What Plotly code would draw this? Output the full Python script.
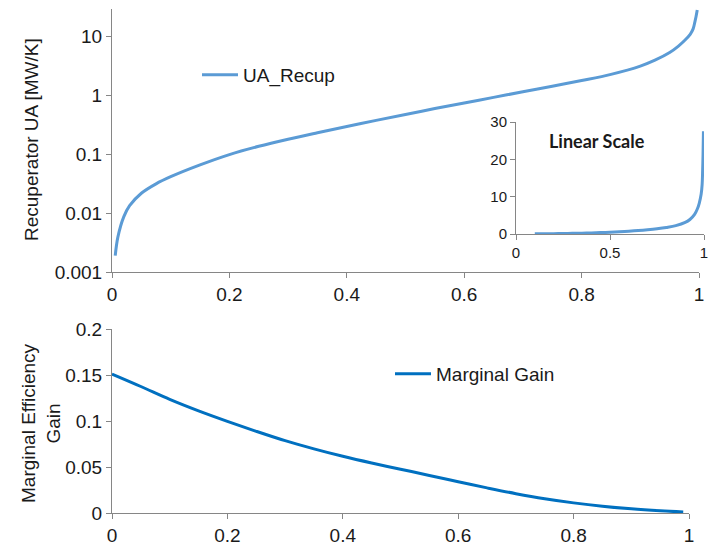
import plotly.graph_objects as go

# Recuperator effectiveness (x) and required UA [MW/K]
effectiveness = [0.0055, 0.01, 0.02, 0.03, 0.05, 0.075, 0.1, 0.15, 0.2,
                 0.25, 0.3, 0.35, 0.4, 0.45, 0.5, 0.55, 0.6, 0.65, 0.7,
                 0.75, 0.8, 0.85, 0.9, 0.925, 0.95, 0.965, 0.975, 0.985, 0.99,
                 0.993, 0.995, 0.997]
ua_recup = [0.0019, 0.0039, 0.0086, 0.0133, 0.0216, 0.0312, 0.0412, 0.0653, 0.0977,
            0.135, 0.178, 0.229, 0.292, 0.372, 0.468, 0.589, 0.733, 0.912, 1.135,
            1.41, 1.76, 2.24, 3.09, 3.89, 5.25, 6.76, 8.3, 10.7, 13.2,
            17.4, 21.4, 27.5]

# Marginal efficiency gain vs effectiveness
gain_eff = [0.0, 0.05, 0.1, 0.15, 0.2, 0.25, 0.3, 0.35, 0.4, 0.45, 0.5,
            0.55, 0.6, 0.65, 0.7, 0.75, 0.8, 0.85, 0.9, 0.95, 0.99]
marginal_gain = [0.151, 0.1375, 0.1235, 0.111, 0.0996, 0.0888, 0.0786, 0.0697, 0.0616, 0.0543, 0.0476,
                 0.0408, 0.0340, 0.0273, 0.0210, 0.0155, 0.0110, 0.0073, 0.0045, 0.0024, 0.0011]

# Inset shows the same curve on a linear scale, from 0.1 upward
inset_x = [e for e in effectiveness if e >= 0.1]
inset_y = [u for e, u in zip(effectiveness, ua_recup) if e >= 0.1]

log_ticks = [0.001, 0.01, 0.1, 1, 10]
log_tick_text = ["0.001", "0.01", "0.1", "1", "10"]

FONT = "Arial, Liberation Sans, sans-serif"
AXIS_GREY = "#868686"
TEXT = "#1a1a1a"
W, H = 708, 546

fig = go.Figure()
fig.add_trace(go.Scatter(x=effectiveness, y=ua_recup, mode="lines", name="UA_Recup",
                         line=dict(color="#5B9BD5", width=3, shape="spline"),
                         xaxis="x", yaxis="y", legend="legend"))
fig.add_trace(go.Scatter(x=inset_x, y=inset_y, mode="lines", showlegend=False,
                         line=dict(color="#5B9BD5", width=3, shape="spline"),
                         xaxis="x3", yaxis="y3"))
fig.add_trace(go.Scatter(x=gain_eff, y=marginal_gain, mode="lines", name="Marginal Gain",
                         line=dict(color="#0070C0", width=3, shape="spline"),
                         xaxis="x2", yaxis="y2", legend="legend2"))

common = dict(showline=True, linecolor=AXIS_GREY, linewidth=1, ticks="outside",
              tickcolor=AXIS_GREY, ticklen=5, showgrid=False, zeroline=False,
              automargin=False, ticklabeloverflow="allow",
              tickfont=dict(family=FONT, size=19, color=TEXT))
inset_common = dict(common, tickfont=dict(family=FONT, size=15, color=TEXT))


def px_x(p):
    return p / W


def px_y(p):
    return 1 - p / H


fig.update_layout(
    width=W, height=H, autosize=False,
    margin=dict(l=0, r=0, t=0, b=0, pad=0),
    paper_bgcolor="white", plot_bgcolor="white",
    font=dict(family=FONT, color=TEXT),
    xaxis=dict(common, domain=[px_x(112), px_x(699)], anchor="y", range=[0, 1], dtick=0.2),
    yaxis=dict(common, domain=[px_y(272), px_y(9)], anchor="x", type="log",
               range=[-3, 1.458], tickvals=log_ticks, ticktext=log_tick_text),
    xaxis2=dict(common, domain=[px_x(112), px_x(689)], anchor="y2", range=[0, 1], dtick=0.2),
    yaxis2=dict(common, domain=[px_y(513), px_y(329)], anchor="x2", range=[0, 0.2], dtick=0.05),
    xaxis3=dict(inset_common, domain=[px_x(516), px_x(704)], anchor="y3", range=[0, 1], dtick=0.5),
    yaxis3=dict(inset_common, domain=[px_y(234), px_y(122)], anchor="x3", range=[0, 30], dtick=10),
    legend=dict(x=px_x(197), y=px_y(75), xanchor="left", yanchor="middle", itemwidth=36,
                bgcolor="rgba(0,0,0,0)", font=dict(family=FONT, size=19, color=TEXT)),
    legend2=dict(x=px_x(390), y=px_y(374), xanchor="left", yanchor="middle", itemwidth=36,
                 bgcolor="rgba(0,0,0,0)", font=dict(family=FONT, size=19, color=TEXT)),
    annotations=[
        dict(text="Recuperator UA [MW/K]", textangle=-90, x=px_x(31), y=px_y(140),
             xref="paper", yref="paper", xanchor="center", yanchor="middle", showarrow=False,
             font=dict(family=FONT, size=19, color=TEXT)),
        dict(text="Marginal Efficiency<br>Gain", textangle=-90, x=px_x(41), y=px_y(423),
             xref="paper", yref="paper", xanchor="center", yanchor="middle", showarrow=False,
             font=dict(family=FONT, size=19, color=TEXT)),
        dict(text="<b>Linear Scale</b>", x=px_x(597), y=px_y(141),
             xref="paper", yref="paper", xanchor="center", yanchor="middle", showarrow=False,
             font=dict(family="Lato, Open Sans, sans-serif", size=18, color=TEXT)),
    ],
)

fig.write_html("out.html")
